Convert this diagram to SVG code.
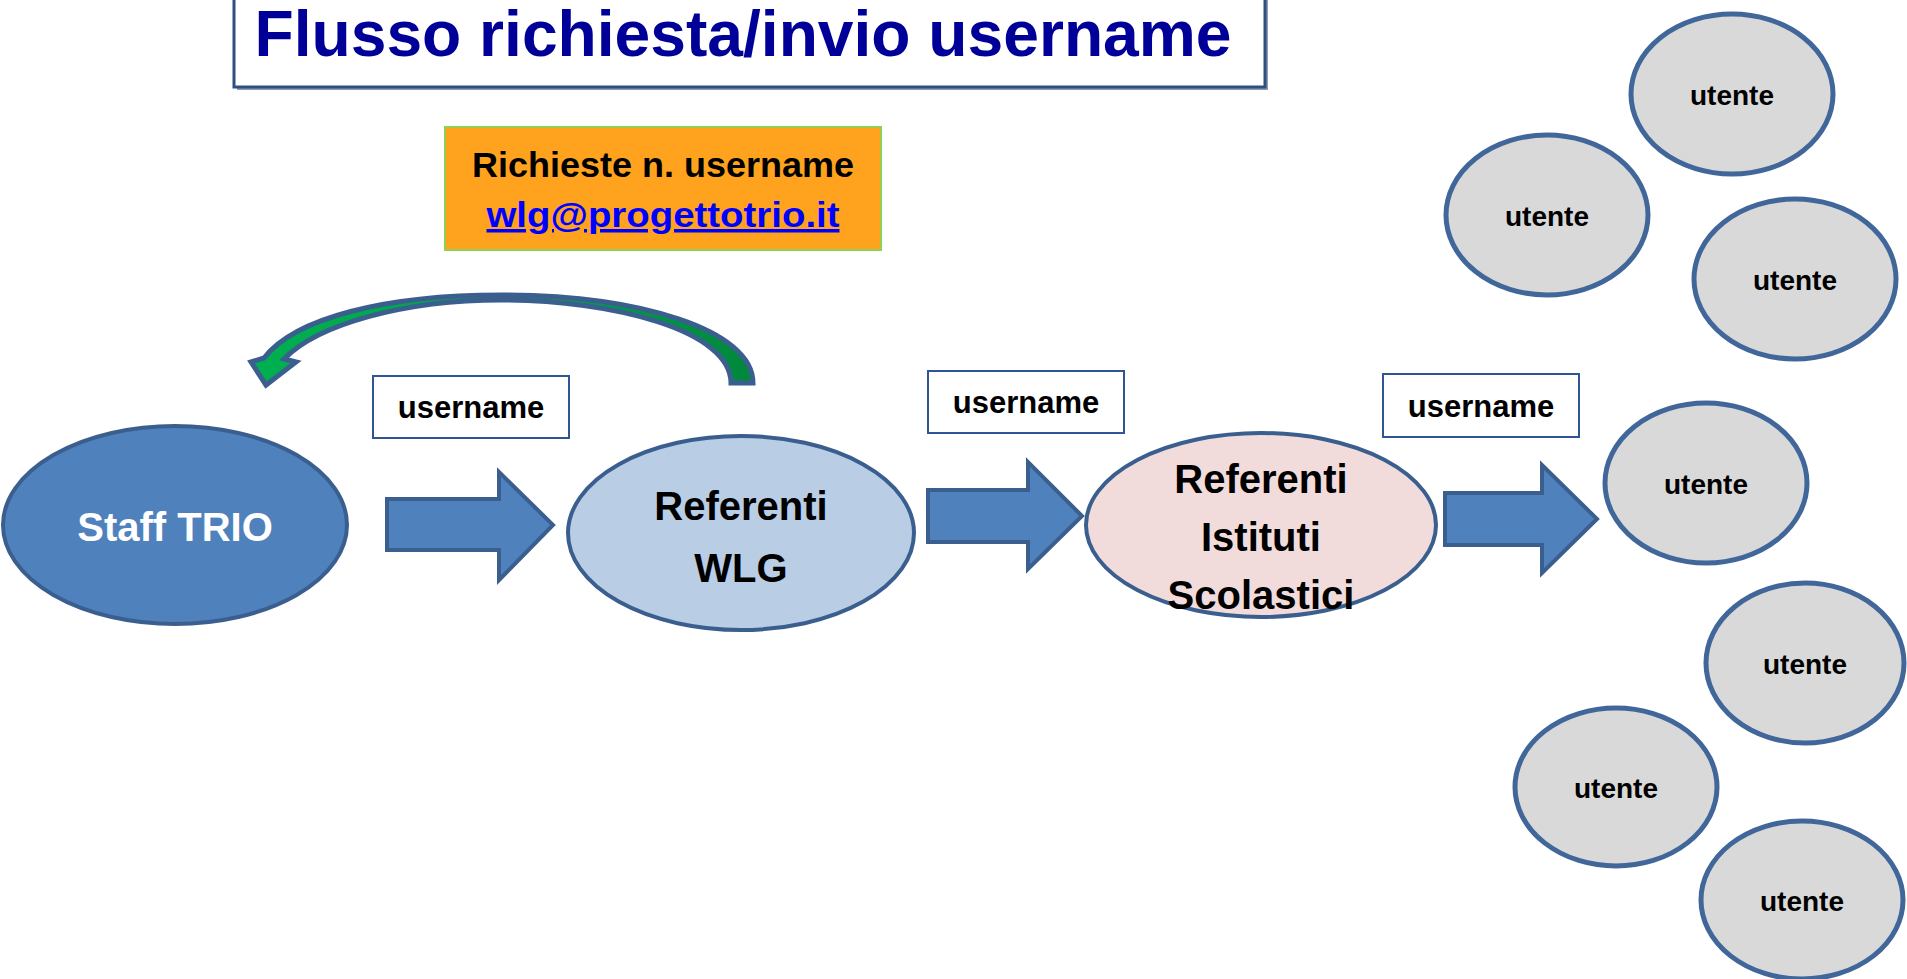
<svg xmlns="http://www.w3.org/2000/svg" width="1907" height="979" viewBox="0 0 1907 979">
<defs>
<linearGradient id="g" x1="250" y1="0" x2="757" y2="0" gradientUnits="userSpaceOnUse">
<stop offset="0" stop-color="#00B050"/><stop offset="0.6" stop-color="#00A04A"/><stop offset="1" stop-color="#00873C"/>
</linearGradient>
<style>
text{font-family:"Liberation Sans",Arial,sans-serif;font-weight:bold;text-anchor:middle}
.blk{fill:#000}
.ell{stroke:#3A5F8F;stroke-width:4}
.ut{fill:#D9D9D9;stroke:#41679A;stroke-width:5}
.arr{fill:#4F81BD;stroke:#3A5F8F;stroke-width:4;stroke-linejoin:miter}
.lbl{fill:#fff;stroke:#2F5597;stroke-width:2}
.ut-t{font-size:28px;fill:#000}
.un{font-size:31px;fill:#000}
.big{font-size:40px;fill:#000}
</style>
</defs>
<g id="title">
<rect x="237" y="-4" width="1031" height="94" fill="#8C9BB0"/>
<rect x="234" y="-6" width="1031" height="93" fill="#fff" stroke="#2F4F7F" stroke-width="3"/>
<text x="743" y="56" font-size="64" fill="#000099" textLength="977" lengthAdjust="spacingAndGlyphs">Flusso richiesta/invio username</text>
</g>
<g id="request-box">
<rect x="445" y="127" width="436" height="123" fill="#FFA31F" stroke="#92D050" stroke-width="2"/>
<text x="663" y="177" font-size="35" class="blk" textLength="382" lengthAdjust="spacingAndGlyphs">Richieste n. username</text>
<text x="663" y="227" font-size="35" fill="#0000FF" text-decoration="underline" textLength="353" lengthAdjust="spacingAndGlyphs">wlg@progettotrio.it</text>
</g>
<g id="connectors">
<path d="M753,383 C753,330 640,295 501,295 C385,295 295,318 264,358 L251,362 L266,385 L296,362 L284,359 C318,324 405,300 501,300 C612,300 731,330 731,383 Z" fill="url(#g)" stroke="#3A5F8F" stroke-width="5" stroke-linejoin="miter"/>
<path class="arr" d="M387,499 L499,499 L499,472 L553,525 L499,580 L499,550 L387,550 Z"/>
<path class="arr" d="M928,490 L1028,490 L1028,462 L1082,516 L1028,569 L1028,542 L928,542 Z"/>
<path class="arr" d="M1445,493 L1542,493 L1542,465 L1597,519 L1542,573 L1542,545 L1445,545 Z"/>
</g>
<g id="label-1"><rect class="lbl" x="373" y="376" width="196" height="62"/><text class="un" x="471" y="418">username</text></g>
<g id="label-2"><rect class="lbl" x="928" y="371" width="196" height="62"/><text class="un" x="1026" y="413">username</text></g>
<g id="label-3"><rect class="lbl" x="1383" y="374" width="196" height="63"/><text class="un" x="1481" y="417">username</text></g>
<g id="staff-trio">
<ellipse class="ell" cx="175" cy="525" rx="172" ry="99" fill="#4F81BD"/>
<text x="175" y="541" font-size="40" fill="#fff">Staff TRIO</text>
</g>
<g id="referenti-wlg">
<ellipse class="ell" cx="741" cy="533" rx="173" ry="97" fill="#B9CDE5"/>
<text class="big" x="741" y="520" font-size="41">Referenti</text>
<text class="big" x="741" y="582">WLG</text>
</g>
<g id="referenti-istituti">
<ellipse class="ell" cx="1261" cy="525" rx="175" ry="92" fill="#F2DCDB"/>
<text class="big" x="1261" y="493">Referenti</text>
<text class="big" x="1261" y="551">Istituti</text>
<text class="big" x="1261" y="609">Scolastici</text>
</g>
<g id="utente-1"><ellipse class="ut" cx="1732" cy="94" rx="101" ry="80"/><text class="ut-t" x="1732" y="105">utente</text></g>
<g id="utente-2"><ellipse class="ut" cx="1547" cy="215" rx="101" ry="80"/><text class="ut-t" x="1547" y="226">utente</text></g>
<g id="utente-3"><ellipse class="ut" cx="1795" cy="279" rx="101" ry="80"/><text class="ut-t" x="1795" y="290">utente</text></g>
<g id="utente-4"><ellipse class="ut" cx="1706" cy="483" rx="101" ry="80"/><text class="ut-t" x="1706" y="494">utente</text></g>
<g id="utente-5"><ellipse class="ut" cx="1805" cy="663" rx="99" ry="80"/><text class="ut-t" x="1805" y="674">utente</text></g>
<g id="utente-6"><ellipse class="ut" cx="1616" cy="787" rx="101" ry="79"/><text class="ut-t" x="1616" y="798">utente</text></g>
<g id="utente-7"><ellipse class="ut" cx="1802" cy="900" rx="101" ry="79"/><text class="ut-t" x="1802" y="911">utente</text></g>
</svg>
